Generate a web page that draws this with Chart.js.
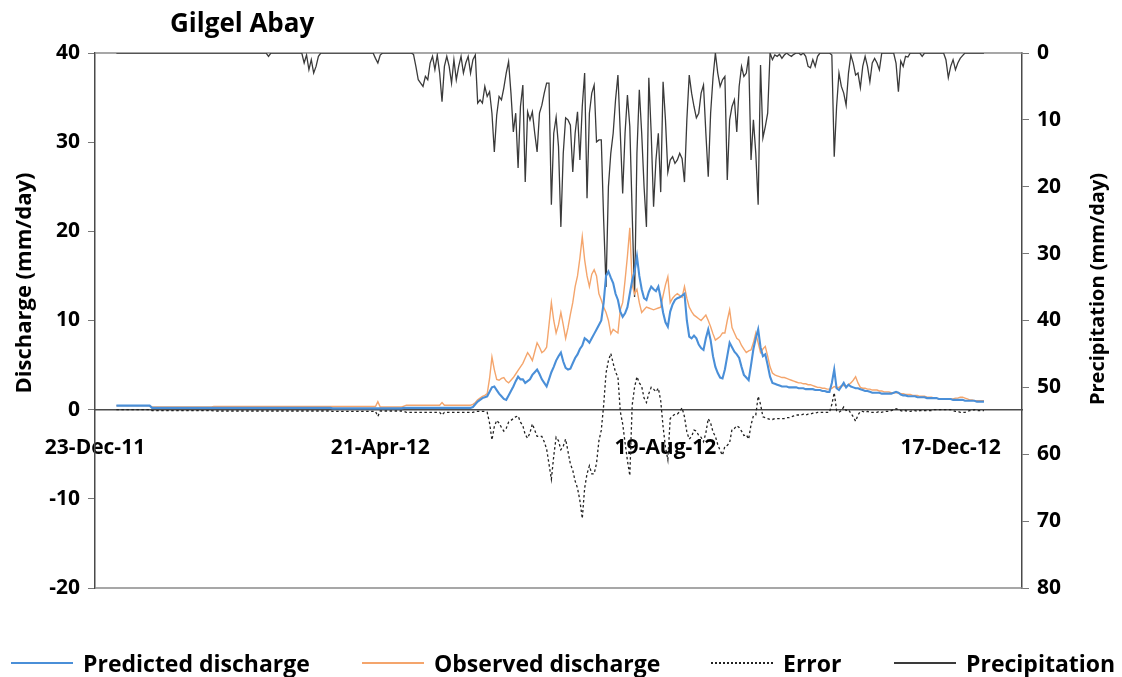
<!DOCTYPE html>
<html>
<head>
<meta charset="utf-8">
<script src="https://cdn.jsdelivr.net/npm/chart.js@4.4.1/dist/chart.umd.min.js"></script>
<style>
  html, body { margin: 0; padding: 0; background: #fff; }
  #wrap { position: relative; width: 1122px; height: 677px; }
  #legend { position: absolute; left: 0; top: 648px; width: 1122px; height: 30px;
            font: bold 23px "Open Sans", sans-serif; color: #000; line-height: 30px; }
  #legend .item { position: absolute; top: 0; display: flex; align-items: center; white-space: nowrap; }
  #legend .swatch { display: inline-block; width: 62px; height: 0; margin-right: 10px; }
</style>
</head>
<body>
<div id="wrap">
  <canvas id="graf" width="1122" height="677"></canvas>
  <div id="legend"></div>
</div>
<script>
// daily series, 1-Jan-12 .. 31-Dec-12 (one line per month)
const precipitation = [
  0,0,0,0,0,0,0,0,0,0,0,0,0,0,0,0,0,0,0,0,0,0,0,0,0,0,0,0,0,0,0,
  0,0,0,0,0,0,0,0,0,0,0,0,0,0,0,0,0,0,0,0,0,0,0,0,0,0,0,0,0,
  0,0,0,0,0.5,0,0,0,0,0,0,0,0,0,0,0,0,0,0,1.5,0.3,2.5,1,3,2,0.5,0,0,0,0,0,
  0,0,0,0,0,0,0,0,0,0,0,0,0,0,0,0,0,0,0.8,1.5,0.3,0,0,0,0,0,0,0,0,0,
  0,0,0,0,0.2,2,4,4.5,5,3.5,4,1.5,0.5,2.5,0.3,3,7.3,2,0.5,2,4.5,1,4,2,0.5,3,1.5,0.5,3,1,0.3,
  7.5,7,7.5,5,6.5,5.8,9,14.8,9.3,6.5,7,5.2,3,1.3,6,11.8,9,17.2,8,4.8,19.3,8.8,10,8.8,12,14.8,9,7.8,6,4.5,
  4.5,22.7,12,9.6,14,26,15,9.7,10,10.8,17.8,12,8.8,16,8,3,21.7,9,6,4.8,13.3,13,13,25,35,20,15,12,7,3.3,12,
  21,12,6.3,11,24,36.5,15,5.5,12,20,26,3.7,12,23,16,12,20.8,4.3,10,17.8,16,15.5,16.5,16,15,15.8,19.3,10,3.3,6,8,
  9.7,9,6,4.8,12,18.5,9,3.7,0,3,5,4,3.5,19,10,8,7,11.8,5,2,3.5,3,0.5,16,10,15,22.7,1.8,12.7,11,
  9,0,1,0.3,0.5,0.2,0.8,0.3,0,0.3,0.5,0.2,0,0,0.3,0,0.5,2,2.2,1,2,0.5,0,0,0,0,0,0.3,15.5,8,3,
  5,6,7.8,3,0.3,1.5,3.3,3,5.2,2,0.5,2,4.3,1.5,0.8,1.5,2.5,0,0,0,0,0,0,1.5,5.8,1.2,2,0.5,0.6,0,
  0,0,0,0,0.5,0,0,0,0,0,0,0,0,0,1,3.7,2,1,2.5,1.5,0.8,0.4,0,0,0,0,0,0,0,0,0
];

const predicted = [
  0.45,0.45,0.45,0.45,0.45,0.45,0.45,0.45,0.45,0.45,0.45,0.45,0.45,0.45,0.45,0.2,0.2,0.2,0.2,0.2,0.2,0.2,0.2,0.2,0.2,0.2,0.2,0.2,0.2,0.2,0.2,
  0.2,0.2,0.2,0.2,0.2,0.2,0.2,0.2,0.2,0.2,0.2,0.2,0.2,0.2,0.2,0.2,0.2,0.2,0.2,0.2,0.2,0.2,0.2,0.2,0.2,0.2,0.2,0.2,0.2,
  0.2,0.2,0.2,0.2,0.2,0.2,0.2,0.2,0.2,0.2,0.2,0.2,0.2,0.2,0.2,0.2,0.2,0.2,0.2,0.2,0.2,0.2,0.2,0.2,0.2,0.2,0.2,0.2,0.2,0.2,0.2,
  0.15,0.15,0.15,0.15,0.15,0.15,0.15,0.15,0.15,0.15,0.15,0.15,0.15,0.15,0.15,0.15,0.15,0.15,0.15,0.15,0.15,0.15,0.15,0.15,0.15,0.15,0.15,0.15,0.15,0.15,
  0.2,0.2,0.2,0.2,0.2,0.2,0.2,0.2,0.2,0.2,0.2,0.2,0.2,0.2,0.2,0.2,0.2,0.2,0.2,0.2,0.2,0.2,0.2,0.2,0.2,0.2,0.2,0.2,0.2,0.3,0.6,
  0.9,1.1,1.3,1.4,1.5,2,2.5,2.6,2.2,1.8,1.5,1.2,1.1,1.6,2.1,2.6,3.2,3.7,3.4,3.4,3,3.2,3.4,3.9,4.2,4.5,4,3.4,3,2.6,
  3.4,4.2,4.8,5.5,6,6.4,5.4,4.7,4.5,4.6,5.2,5.8,6.2,6.8,7.2,8,7.8,7.5,8,8.5,9,9.5,10,12,15,15.5,14.8,14.2,13,12.3,11,
  10.4,10.8,11.5,13,14.5,15.5,17.2,15,13.5,12.5,12.3,13.2,13.8,13.5,13.3,13.8,12.5,10.9,9.8,9.3,11,11.8,12.3,12.5,12.6,12.8,13,10,8.2,8,8.3,
  8,7.3,6.9,6.7,8,9,7.8,6,4.8,4.1,3.6,3.5,4.5,6,7.5,7,6.5,6.2,5.8,4.8,3.9,3.6,3.3,5,6.8,8,9,7,6,6.2,
  5,3.7,3,2.9,2.8,2.7,2.6,2.6,2.6,2.5,2.5,2.5,2.5,2.4,2.4,2.4,2.3,2.3,2.3,2.3,2.2,2.2,2.2,2.1,2.1,2,2,3,4.5,2.4,2.2,
  2.6,3,2.5,2.8,2.6,2.5,2.4,2.4,2.3,2.2,2.1,2.1,2,1.9,1.9,1.9,1.9,1.8,1.8,1.8,1.8,1.8,1.9,2,1.9,1.7,1.6,1.6,1.5,1.5,
  1.5,1.5,1.4,1.4,1.4,1.4,1.3,1.3,1.3,1.3,1.3,1.2,1.2,1.2,1.2,1.2,1.2,1.1,1.1,1.1,1.1,1.1,1,1,1,1,1,0.9,0.9,0.9,0.9
];

const observed = [
  0.45,0.45,0.45,0.45,0.45,0.45,0.45,0.45,0.45,0.45,0.45,0.45,0.45,0.45,0.45,0.3,0.3,0.3,0.3,0.3,0.3,0.3,0.3,0.3,0.3,0.3,0.3,0.3,0.3,0.3,0.3,
  0.3,0.3,0.3,0.3,0.3,0.3,0.3,0.3,0.3,0.3,0.35,0.35,0.35,0.35,0.35,0.35,0.35,0.35,0.35,0.35,0.35,0.35,0.35,0.35,0.35,0.35,0.35,0.35,0.35,
  0.35,0.35,0.35,0.35,0.35,0.35,0.35,0.35,0.35,0.35,0.35,0.35,0.35,0.35,0.35,0.35,0.35,0.35,0.35,0.35,0.35,0.35,0.35,0.35,0.35,0.35,0.35,0.35,0.35,0.35,0.35,
  0.35,0.35,0.35,0.35,0.35,0.35,0.35,0.35,0.35,0.35,0.35,0.35,0.35,0.35,0.35,0.35,0.35,0.35,0.35,0.9,0.3,0.3,0.3,0.3,0.3,0.3,0.3,0.3,0.3,0.3,
  0.4,0.5,0.5,0.5,0.5,0.5,0.5,0.5,0.5,0.5,0.5,0.5,0.5,0.5,0.5,0.5,0.8,0.5,0.5,0.5,0.5,0.5,0.5,0.5,0.5,0.5,0.5,0.5,0.5,0.6,0.8,
  1.1,1.3,1.5,1.6,1.8,3.5,5.9,4.5,3.4,3.3,3.5,3.6,3.2,3,3.3,3.6,4,4.4,4.8,5.2,5.8,6.4,6,5.5,6.5,7.5,7,6.4,6.6,7,
  9.5,12,10,8.6,9.5,10.9,9.5,8,9.2,10.7,12,13.8,15,17,19.4,16.8,15,13.8,15.2,15.7,15,13,12.3,11.5,10.9,10,8.5,9,8.8,8.6,11.2,
  12,14.5,17.2,20.4,14,13,13.5,12,10.9,11.2,11.5,11.4,11.3,11.2,11.3,11.4,11.5,12.8,14,14.9,12,12.5,12.8,13,12.8,12.6,13.8,12.5,11.5,11,10.6,
  10.4,10.2,10,10.3,10.6,10,9.3,8.5,7.8,8,8.2,8.6,8.6,10,11.2,9.2,8.6,8,7.8,7.2,6.8,6.4,6.6,6.7,7.5,8.6,7.5,6.4,6.8,7.1,
  6,4.8,4.1,3.9,3.8,3.7,3.6,3.6,3.5,3.4,3.3,3.2,3.1,3,3,2.9,2.9,2.8,2.8,2.7,2.6,2.5,2.5,2.4,2.4,2.3,2.3,2.4,2.6,2.5,2.5,
  2.7,2.7,2.6,2.8,3,3.3,3.7,3,2.5,2.4,2.4,2.3,2.3,2.2,2.2,2.2,2.1,2.1,2,2,2,1.9,1.9,1.9,1.9,1.8,1.8,1.7,1.7,1.7,
  1.6,1.6,1.6,1.5,1.5,1.5,1.4,1.4,1.4,1.3,1.3,1.2,1.2,1.2,1.2,1.2,1.2,1.2,1.3,1.3,1.4,1.4,1.3,1.2,1.1,1.1,1,1,1,1,1
];

const error = [
  0,0,0,0,0,0,0,0,0,0,0,0,0,0,0,-0.1,-0.1,-0.1,-0.1,-0.1,-0.1,-0.1,-0.1,-0.1,-0.1,-0.1,-0.1,-0.1,-0.1,-0.1,-0.1,
  -0.1,-0.1,-0.1,-0.1,-0.1,-0.1,-0.1,-0.1,-0.1,-0.1,-0.15,-0.15,-0.15,-0.15,-0.15,-0.15,-0.15,-0.15,-0.15,-0.15,-0.15,-0.15,-0.15,-0.15,-0.15,-0.15,-0.15,-0.15,-0.15,
  -0.15,-0.15,-0.15,-0.15,-0.15,-0.15,-0.15,-0.15,-0.15,-0.15,-0.15,-0.15,-0.15,-0.15,-0.15,-0.15,-0.15,-0.15,-0.15,-0.15,-0.15,-0.15,-0.15,-0.15,-0.15,-0.15,-0.15,-0.15,-0.15,-0.15,-0.15,
  -0.2,-0.2,-0.2,-0.2,-0.2,-0.2,-0.2,-0.2,-0.2,-0.2,-0.2,-0.2,-0.2,-0.2,-0.2,-0.2,-0.2,-0.2,-0.2,-0.75,-0.15,-0.15,-0.15,-0.15,-0.15,-0.15,-0.15,-0.15,-0.15,-0.15,
  -0.2,-0.3,-0.3,-0.3,-0.3,-0.3,-0.3,-0.3,-0.3,-0.3,-0.3,-0.3,-0.3,-0.3,-0.3,-0.3,-0.6,-0.3,-0.3,-0.3,-0.3,-0.3,-0.3,-0.3,-0.3,-0.3,-0.3,-0.3,-0.3,-0.3,-0.2,
  -0.2,-0.2,-0.2,-0.2,-0.3,-1.5,-3.4,-1.9,-1.2,-1.5,-2,-2.4,-2.1,-1.4,-1.2,-1,-0.8,-0.7,-1.4,-1.8,-2.8,-3.2,-2.6,-1.6,-2.3,-3,-3,-3,-3.6,-4.4,
  -6.1,-7.8,-5.2,-3.1,-3.5,-4.5,-4.1,-3.3,-4.7,-6.1,-6.8,-8,-8.8,-10.2,-12.2,-8.8,-7.2,-6.3,-7.2,-7.2,-6,-3.5,-2.3,0.5,4.1,5.5,6.3,5.2,4.2,3.7,-0.2,
  -1.6,-3.7,-5.7,-7.4,0.5,2.5,3.7,3,2.6,1.3,0.8,1.8,2.5,2.3,2,2.4,1,-1.9,-4.2,-5.6,-1,-0.7,-0.5,-0.5,-0.2,0.2,-0.8,-2.5,-3.3,-3,-2.3,
  -2.4,-2.9,-3.1,-3.6,-2.6,-1,-1.5,-2.5,-3,-3.9,-4.6,-5.1,-4.1,-4,-3.7,-2.2,-2.1,-1.8,-2,-2.4,-2.9,-2.8,-3.3,-1.7,-0.7,-0.6,1.5,0.6,-0.8,-0.9,
  -1,-1.1,-1.1,-1,-1,-1,-1,-1,-0.9,-0.9,-0.8,-0.7,-0.6,-0.6,-0.6,-0.5,-0.6,-0.5,-0.5,-0.4,-0.4,-0.3,-0.3,-0.3,-0.3,-0.3,-0.3,0.6,1.9,-0.1,-0.3,
  -0.1,0.3,-0.1,0,-0.4,-0.8,-1.3,-0.6,-0.2,-0.2,-0.3,-0.2,-0.3,-0.3,-0.3,-0.3,-0.2,-0.3,-0.2,-0.2,-0.2,-0.1,0,0.1,0,-0.1,-0.2,-0.1,-0.2,-0.2,
  -0.1,-0.1,-0.2,-0.1,-0.1,-0.1,-0.1,-0.1,-0.1,0,0,0,0,0,0,0,0,-0.1,-0.2,-0.2,-0.3,-0.3,-0.3,-0.2,-0.1,-0.1,0,-0.1,-0.1,-0.1,-0.1
];

// x axis: days counted from 23-Dec-11
const firstDay = 9;               // 1-Jan-12
const tickDays = [0, 120, 240, 360];
const tickLabels = ["23-Dec-11", "21-Apr-12", "19-Aug-12", "17-Dec-12"];

const seriesNames = ["Predicted discharge", "Observed discharge", "Error", "Precipitation"];
const legendLeft = [11, 362, 711, 894];

const FONT = "'Open Sans', sans-serif";
const pts = arr => arr.map((v, i) => ({ x: i + firstDay, y: v }));

function vText(ctx, text, x, y, size) {
  ctx.save();
  ctx.translate(x, y);
  ctx.rotate(-Math.PI / 2);
  ctx.font = "bold " + size + "px " + FONT;
  ctx.fillStyle = "#000";
  ctx.textAlign = "center";
  ctx.textBaseline = "middle";
  ctx.fillText(text, 0, 0);
  ctx.restore();
}

const frame = {
  id: "frame",
  beforeDatasetsDraw(chart) {
    const { ctx, chartArea: a } = chart;
    ctx.save();
    ctx.strokeStyle = "#8a8a8a";
    ctx.lineWidth = 1.5;
    ctx.beginPath();
    ctx.moveTo(a.left, a.top); ctx.lineTo(a.right, a.top);
    ctx.moveTo(a.left, a.bottom); ctx.lineTo(a.right, a.bottom);
    ctx.stroke();
    ctx.restore();
  },
  afterDraw(chart) {
    const ctx = chart.ctx;
    ctx.save();
    ctx.font = "bold 26px " + FONT;
    ctx.fillStyle = "#000";
    ctx.textBaseline = "middle";
    ctx.fillText("Gilgel Abay", 170, 25);
    ctx.restore();
    // axis titles, both read bottom to top
    vText(ctx, "Discharge (mm/day)", 25, 283, 22);
    vText(ctx, "Precipitation (mm/day)", 1098, 289, 20);
  }
};

const tickFont = { family: FONT, size: 21, weight: "bold" };

const chart = new Chart(document.getElementById("graf"), {
  type: "line",
  data: {
    datasets: [
      { label: seriesNames[0], data: pts(predicted), borderColor: "#4a8fd8", borderWidth: 2.1, yAxisID: "y" },
      { label: seriesNames[1], data: pts(observed), borderColor: "#f4a56c", borderWidth: 1.4, yAxisID: "y" },
      { label: seriesNames[2], data: pts(error), borderColor: "#222", borderWidth: 1.3, borderDash: [2.5, 2.5], yAxisID: "y" },
      { label: seriesNames[3], data: pts(precipitation), borderColor: "#3a3a3a", borderWidth: 1.3, yAxisID: "y2" }
    ]
  },
  options: {
    responsive: false,
    animation: false,
    elements: { point: { radius: 0 }, line: { tension: 0, fill: false } },
    layout: { padding: { top: 53, bottom: 89, left: 0, right: 0 } },
    plugins: {
      tooltip: { enabled: false },
      legend: { display: false }
    },
    scales: {
      x: {
        type: "linear",
        min: 0,
        max: 390,
        position: { y: 0 },
        afterBuildTicks: s => { s.ticks = tickDays.map(v => ({ value: v })); },
        ticks: {
          callback: v => tickLabels[tickDays.indexOf(v)],
          autoSkip: false, maxRotation: 0, padding: 26,
          color: "#000", font: tickFont
        },
        grid: { display: false, drawTicks: false },
        border: { color: "#4a4a4a", width: 1.5 }
      },
      y: {
        position: "left",
        min: -20, max: 40,
        ticks: { stepSize: 10, padding: 8, color: "#000", font: tickFont },
        grid: { drawOnChartArea: false, tickLength: 7, color: "#777" },
        border: { color: "#4a4a4a", width: 1.5 },
        afterFit: s => { s.width = 95; }
      },
      y2: {
        position: "right",
        min: 0, max: 80, reverse: true,
        ticks: { stepSize: 10, padding: 8, color: "#000", font: tickFont },
        grid: { drawOnChartArea: false, tickLength: 7, color: "#777" },
        border: { color: "#4a4a4a", width: 1.5 },
        afterFit: s => { s.width = 100; }
      }
    }
  },
  plugins: [frame]
});

// legend row under the plot, built from the datasets
const legend = document.getElementById("legend");
chart.data.datasets.forEach((ds, i) => {
  const item = document.createElement("div");
  item.className = "item";
  item.style.left = legendLeft[i] + "px";
  const sw = document.createElement("span");
  sw.className = "swatch";
  sw.style.borderTop = (ds.borderDash ? "2px dotted " : "2px solid ") + ds.borderColor;
  const tx = document.createElement("span");
  tx.textContent = ds.label;
  item.appendChild(sw);
  item.appendChild(tx);
  legend.appendChild(item);
});
</script>
</body>
</html>
